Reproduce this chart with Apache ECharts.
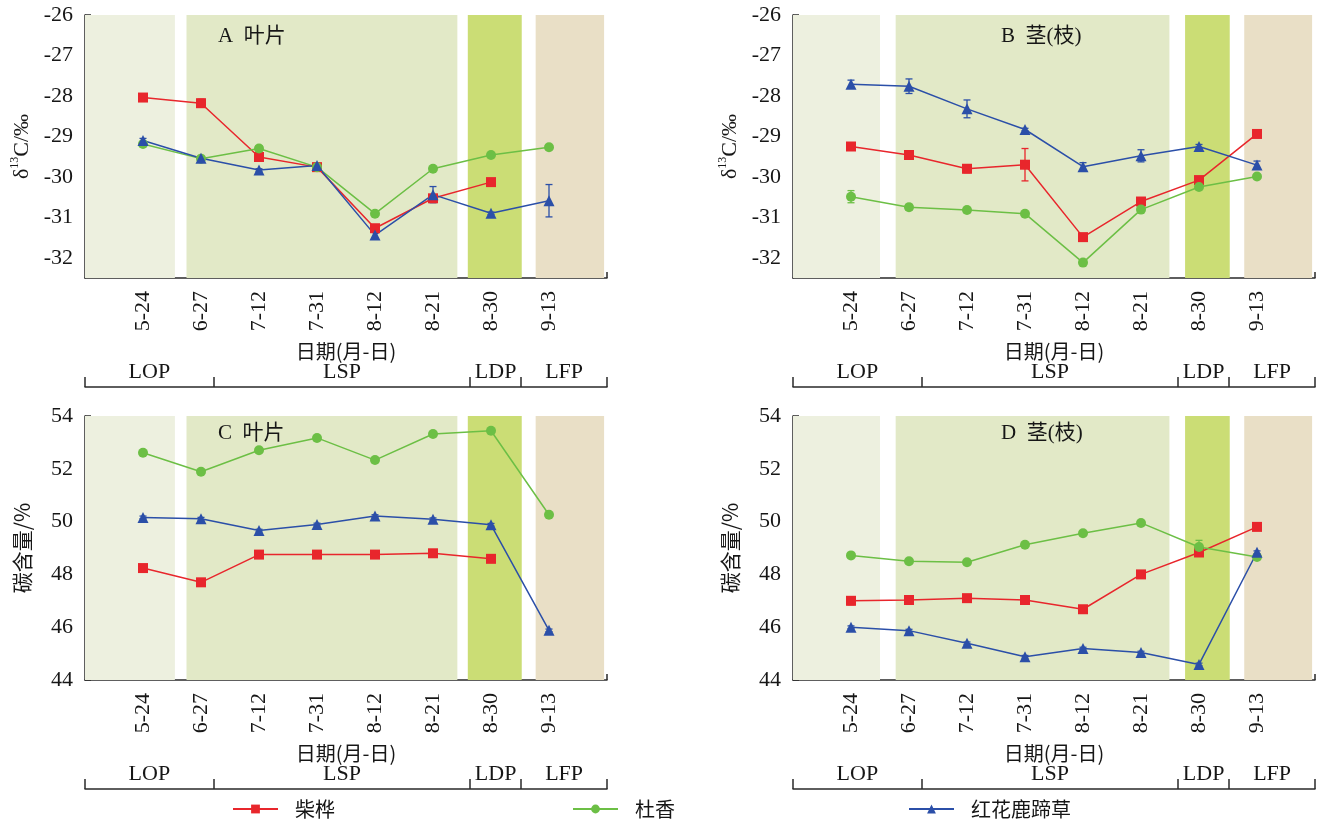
<!DOCTYPE html>
<html><head><meta charset="utf-8">
<script src="https://cdn.jsdelivr.net/npm/echarts@6/dist/echarts.min.js"></script>
<style>html,body{margin:0;padding:0;background:#fff}#c{width:1320px;height:823px}</style>
</head><body><div id="c"></div>
<script>
// ---- categories / labels ----
const dates = ['5-24','6-27','7-12','7-31','8-12','8-21','8-30','9-13'];
const speciesNames = ['柴桦','杜香','红花鹿蹄草'];
const phaseNames = ['LOP','LSP','LDP','LFP'];
const phaseBounds = [0, 2.22, 6.64, 7.52, 9];
const bandsLeft = [[0,1.55],[1.75,6.42],[6.6,7.53],[7.77,8.95]];
const bandsRight = [[0,1.5],[1.77,6.49],[6.76,7.53],[7.78,8.95]];
const d13Ticks = [-32,-31,-30,-29,-28,-27,-26];
const carbonTicks = [44,46,48,50,52,54];
const panelTitles = ['A\u2002叶片','B\u2002茎(枝)','C\u2002叶片','D\u2002茎(枝)'];

// ---- A: leaf δ13C ----
const leafD13_chaihua = [-28.04,-28.18,-29.51,-29.76,-31.27,-30.53,-30.13,null];
const leafD13_chaihua_err = [0.08,0.1,0.05,0.04,0.05,0.05,0.03,0];
const leafD13_duxiang = [-29.19,-29.55,-29.30,-29.76,-30.91,-29.80,-29.46,-29.27];
const leafD13_duxiang_err = [0.03,0.03,0.07,0.03,0.03,0.03,0.03,0.03];
const leafD13_lutican = [-29.10,-29.54,-29.83,-29.72,-31.44,-30.44,-30.90,-30.59];
const leafD13_lutican_err = [0.05,0.03,0.03,0.05,0.08,0.2,0.03,0.4];
// ---- B: stem δ13C ----
const stemD13_chaihua = [-29.25,-29.46,-29.80,-29.70,-31.49,-30.61,-30.08,-28.94];
const stemD13_chaihua_err = [0.04,0.06,0.1,0.4,0.03,0.03,0.03,0.03];
const stemD13_duxiang = [-30.49,-30.75,-30.82,-30.91,-32.12,-30.81,-30.25,-29.99];
const stemD13_duxiang_err = [0.15,0.07,0.06,0.03,0.03,0.03,0.03,0.03];
const stemD13_lutican = [-27.71,-27.76,-28.32,-28.83,-29.75,-29.48,-29.25,-29.71];
const stemD13_lutican_err = [0.1,0.18,0.22,0.03,0.1,0.15,0.05,0.1];
// ---- C: leaf carbon content ----
const leafC_chaihua = [48.24,47.70,48.75,48.75,48.75,48.80,48.59,null];
const leafC_chaihua_err = [0.05,0.05,0.05,0.05,0.05,0.05,0.05,0];
const leafC_duxiang = [52.61,51.89,52.70,53.17,52.33,53.32,53.44,50.26];
const leafC_duxiang_err = [0.05,0.05,0.05,0.05,0.05,0.05,0.05,0.05];
const leafC_lutican = [50.16,50.11,49.66,49.89,50.21,50.09,49.88,45.88];
const leafC_lutican_err = [0.05,0.05,0.05,0.05,0.05,0.05,0.05,0.05];
// ---- D: stem carbon content ----
const stemC_chaihua = [47.00,47.03,47.10,47.03,46.68,48.00,48.83,49.80];
const stemC_chaihua_err = [0.15,0.05,0.05,0.05,0.05,0.05,0.05,0.05];
const stemC_duxiang = [48.72,48.50,48.46,49.12,49.56,49.95,49.04,48.66];
const stemC_duxiang_err = [0.05,0.05,0.05,0.05,0.05,0.05,0.25,0.05];
const stemC_lutican = [46.00,45.87,45.39,44.88,45.19,45.04,44.59,48.84];
const stemC_lutican_err = [0.05,0.05,0.05,0.05,0.05,0.05,0.05,0.05];

// ---- styling ----
const SERIF = '"Liberation Serif","Noto Sans CJK SC",serif';
const CJK = '"Noto Sans CJK SC","Liberation Serif",sans-serif';
const TXT = '#161616';
const AX = '#2a2a2a';
const colors = ['#E8262C','#6CBF45','#2B4FA8'];
const symbols = ['rect','circle','triangle'];
const symbolSizes = [10,10,11];
const bandColors = ['#EDF0DF','#E2E9C7','#CBDD75','#E9DFC6'];
const XMAX = 9;

const chart = echarts.init(document.getElementById('c'));

const grids = [
  {left:85, top:15, width:522, height:263},
  {left:793, top:15, width:522, height:263},
  {left:85, top:416, width:522, height:264},
  {left:793, top:416, width:522, height:264}
];
const yRanges = [[-32.5,-26],[-32.5,-26],[44,54],[44,54]];
const yTicks = [d13Ticks,d13Ticks,carbonTicks,carbonTicks];
const panelVals = [
  [leafD13_chaihua,leafD13_duxiang,leafD13_lutican],
  [stemD13_chaihua,stemD13_duxiang,stemD13_lutican],
  [leafC_chaihua,leafC_duxiang,leafC_lutican],
  [stemC_chaihua,stemC_duxiang,stemC_lutican]
];
const panelErrs = [
  [leafD13_chaihua_err,leafD13_duxiang_err,leafD13_lutican_err],
  [stemD13_chaihua_err,stemD13_duxiang_err,stemD13_lutican_err],
  [leafC_chaihua_err,leafC_duxiang_err,leafC_lutican_err],
  [stemC_chaihua_err,stemC_duxiang_err,stemC_lutican_err]
];
const panelBands = [bandsLeft,bandsRight,bandsLeft,bandsRight];
const titleLeft = [213,996,213,996];
const titleTop = [21,21,418,418];

const catPos = dates.map((d,i)=>i+1);
const phaseMids = phaseNames.map((p,i)=>(phaseBounds[i]+phaseBounds[i+1])/2);

const xAxes = [], yAxes = [], series = [], titles = [];
grids.forEach((g,gi)=>{
  xAxes.push({
    type:'value', gridIndex:gi, min:0, max:XMAX, position:'bottom',
    name:'日期(月-日)', nameLocation:'middle', nameGap:63,
    nameTextStyle:{fontFamily:CJK, fontSize:20, color:TXT},
    axisLine:{show:true, lineStyle:{color:AX, width:1.5}},
    axisTick:{show:true, inside:true, length:6, customValues:catPos.concat([XMAX]), lineStyle:{color:AX, width:1.5}},
    axisLabel:{show:true, rotate:90, margin:13, customValues:catPos,
      formatter:v=>dates[Math.round(v)-1], fontFamily:SERIF, fontSize:22, color:TXT},
    splitLine:{show:false}
  });
  xAxes.push({
    type:'value', gridIndex:gi, min:0, max:XMAX, position:'bottom', offset:109,
    axisLine:{show:true, lineStyle:{color:AX, width:1.5}},
    axisTick:{show:true, inside:true, length:10, customValues:phaseBounds, lineStyle:{color:AX, width:1.5}},
    axisLabel:{show:true, inside:true, margin:4, customValues:phaseMids,
      formatter:v=>phaseNames[phaseMids.indexOf(v)], fontFamily:SERIF, fontSize:22, color:TXT},
    splitLine:{show:false}
  });
  const isD13 = gi < 2;
  yAxes.push({
    type:'value', gridIndex:gi, min:yRanges[gi][0], max:yRanges[gi][1],
    name: isD13 ? '{a|δ}{b|13}{a|C/‰}' : '碳含量/%',
    nameLocation:'middle', nameGap:52, nameRotate:90,
    nameTextStyle: isD13 ? {color:TXT, rich:{
        a:{fontFamily:SERIF, fontSize:22, color:TXT, verticalAlign:'bottom', lineHeight:24},
        b:{fontFamily:SERIF, fontSize:12, color:TXT, verticalAlign:'top', lineHeight:24}}}
      : {fontFamily:CJK, fontSize:21, color:TXT, letterSpacing:2},
    axisLine:{show:true, lineStyle:{color:AX, width:1.5}},
    axisTick:{show:true, inside:true, length:6, customValues:yTicks[gi], lineStyle:{color:AX, width:1.5}},
    axisLabel:{show:true, margin:12, customValues:yTicks[gi], fontFamily:SERIF, fontSize:22, color:TXT},
    splitLine:{show:false}
  });
  titles.push({text:panelTitles[gi], left:titleLeft[gi], top:titleTop[gi],
    textStyle:{fontFamily:SERIF, fontSize:21, fontWeight:'normal', color:TXT}});

  // background phase bands
  const yr = yRanges[gi];
  series.push({
    type:'custom', xAxisIndex:2*gi, yAxisIndex:gi, silent:true, z:1,
    data: panelBands[gi].map((b,i)=>[b[0],b[1],i]),
    renderItem:(params, api)=>{
      const p0 = api.coord([api.value(0), yr[1]]);
      const p1 = api.coord([api.value(1), yr[0]]);
      return {type:'rect', shape:{x:p0[0], y:p0[1], width:p1[0]-p0[0], height:p1[1]-p0[1]},
        style:{fill:bandColors[api.value(2)]}};
    }
  });

  panelVals[gi].forEach((vals,si)=>{
    const errs = panelErrs[gi][si];
    const col = colors[si];
    series.push({
      type:'custom', xAxisIndex:2*gi, yAxisIndex:gi, silent:true, z:3,
      data: vals.map((v,i)=> v==null||!errs[i] ? null : [i+1, v-errs[i], v+errs[i]]).filter(d=>d),
      encode:{x:0, y:[1,2]},
      renderItem:(params, api)=>{
        const a = api.coord([api.value(0), api.value(1)]);
        const b = api.coord([api.value(0), api.value(2)]);
        const w = 3.5;
        const st = {stroke:col, lineWidth:1.3};
        return {type:'group', children:[
          {type:'line', shape:{x1:a[0],y1:a[1],x2:b[0],y2:b[1]}, style:st},
          {type:'line', shape:{x1:a[0]-w,y1:a[1],x2:a[0]+w,y2:a[1]}, style:st},
          {type:'line', shape:{x1:b[0]-w,y1:b[1],x2:b[0]+w,y2:b[1]}, style:st}
        ]};
      }
    });
    series.push({
      type:'line', name:speciesNames[si], xAxisIndex:2*gi, yAxisIndex:gi, z:4,
      data: vals.map((v,i)=>[i+1, v]),
      connectNulls:false,
      symbol:symbols[si], symbolSize:symbolSizes[si], showAllSymbol:true,
      itemStyle:{color:col}, lineStyle:{color:col, width:1.5},
      animation:false
    });
  });
});

const legendLeft = [227,567,903];
const legends = speciesNames.map((n,i)=>({
  data:[n], left:legendLeft[i], top:794, itemWidth:45, itemHeight:11,
  textStyle:{fontFamily:CJK, fontSize:20, color:TXT, padding:[0,0,0,12]},
  selectedMode:false
}));

chart.setOption({
  animation:false,
  backgroundColor:'#fff',
  title:titles,
  grid:grids,
  xAxis:xAxes,
  yAxis:yAxes,
  legend:legends,
  series:series
});
</script></body></html>
